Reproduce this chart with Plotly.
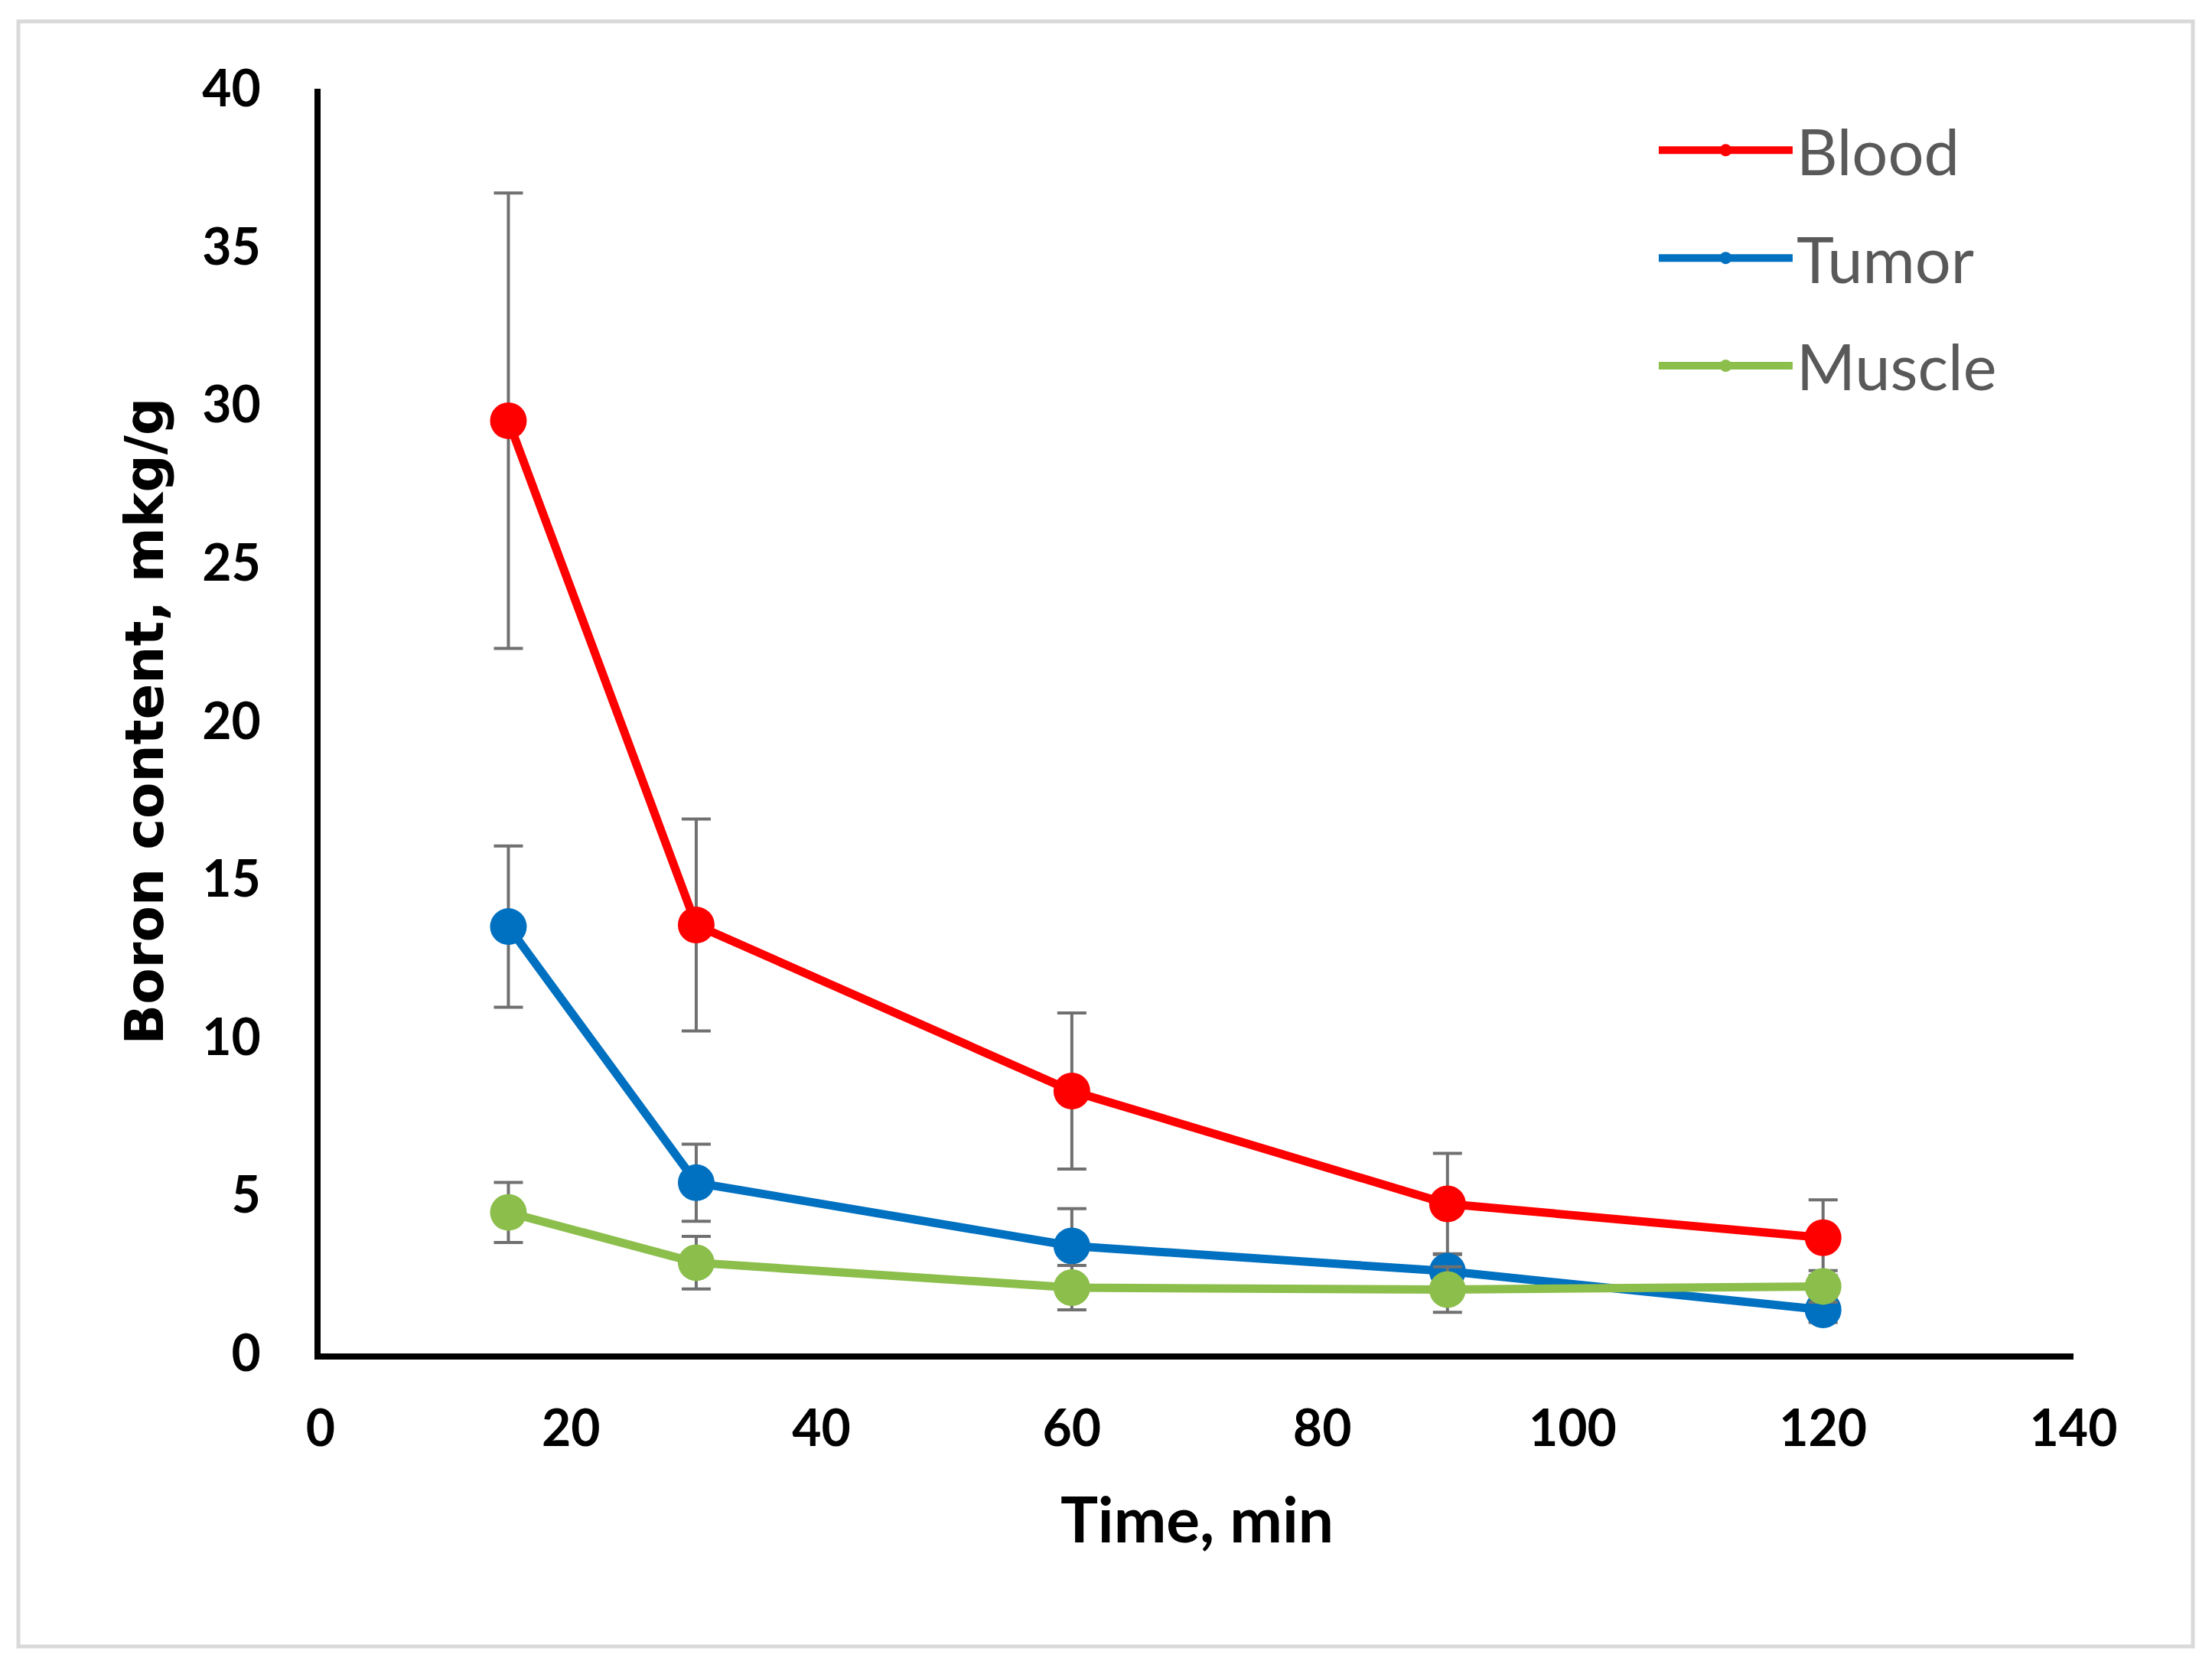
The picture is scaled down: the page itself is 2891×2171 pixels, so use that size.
import plotly.graph_objects as go

# ---- data ----
time_min = [15, 30, 60, 90, 120]

blood = [29.5, 13.55, 8.3, 4.73, 3.66]
blood_err = [7.2, 3.35, 2.47, 1.6, 1.2]

tumor = [13.5, 5.4, 3.4, 2.6, 1.38]
tumor_err = [2.55, 1.22, 1.18, 0.55, 0.4]

muscle = [4.46, 2.87, 2.08, 2.02, 2.12]
muscle_err = [0.95, 0.83, 0.7, 0.72, 0.5]

series_names = ["Blood", "Tumor", "Muscle"]
series_colors = ["#FF0000", "#0070C0", "#8CBE4C"]

x_ticks = [0, 20, 40, 60, 80, 100, 120, 140]
y_ticks = [0, 5, 10, 15, 20, 25, 30, 35, 40]

W, H = 2875, 2155
L, T, R, B = 411, 108, 173, 394
PH = H - T - B          # plot height in px
BORDER_TOP, BORDER_BOTTOM = 20, 2144   # figure px of the outer frame

fig = go.Figure()
for name, vals, errs, col in zip(series_names, [blood, tumor, muscle],
                                 [blood_err, tumor_err, muscle_err], series_colors):
    fig.add_trace(go.Scatter(
        x=time_min, y=vals, name=name, mode="lines+markers",
        line=dict(color=col, width=11),
        marker=dict(color=col, size=48, line=dict(width=0)),
        error_y=dict(type="data", array=errs, visible=True,
                     color="#707070", thickness=4, width=19),
        legendgroup=name,
    ))

fig.update_layout(
    width=W, height=H,
    margin=dict(l=L, r=R, t=T, b=B),
    paper_bgcolor="white", plot_bgcolor="white",
    showlegend=True,
    legend=dict(
        x=0.7612, y=0.988, xanchor="left", yanchor="top",
        font=dict(family="Lato, Calibri, sans-serif", size=83, color="#595959"),
        bgcolor="rgba(0,0,0,0)", borderwidth=0,
        itemwidth=175, tracegroupgap=30,
        itemsizing="trace",
    ),
    xaxis=dict(
        range=[0, 140], tickvals=x_ticks, ticktext=[str(v) for v in x_ticks],
        showgrid=False, zeroline=False,
        showline=True, linecolor="black", linewidth=8,
        ticks="", ticklabelstandoff=34,
        tickfont=dict(family="Lato, Calibri, sans-serif", size=66, color="black", weight="bold"),
        title=dict(text="<b>Time, min</b>", standoff=58,
                   font=dict(family="Lato, Calibri, sans-serif", size=82, color="black")),
    ),
    yaxis=dict(
        range=[0, 40], tickvals=y_ticks, ticktext=[str(v) for v in y_ticks],
        showgrid=False, zeroline=False,
        showline=True, linecolor="black", linewidth=8,
        ticks="", ticklabelstandoff=57,
        tickfont=dict(family="Lato, Calibri, sans-serif", size=66, color="black", weight="bold"),
        title=dict(text="<b>Boron content, mkg/g</b>", standoff=31,
                   font=dict(family="DejaVu Sans, Verdana, sans-serif", size=69, color="black")),
    ),
    shapes=[dict(
        type="rect", xref="paper", yref="paper",
        x0=-0.1724, x1=1.0681,
        y0=-(BORDER_BOTTOM - (T + PH)) / PH, y1=(T + PH - BORDER_TOP) / PH,
        line=dict(color="#D9D9D9", width=5), fillcolor="rgba(0,0,0,0)", layer="below",
    )],
)

fig.write_html("out.html")
